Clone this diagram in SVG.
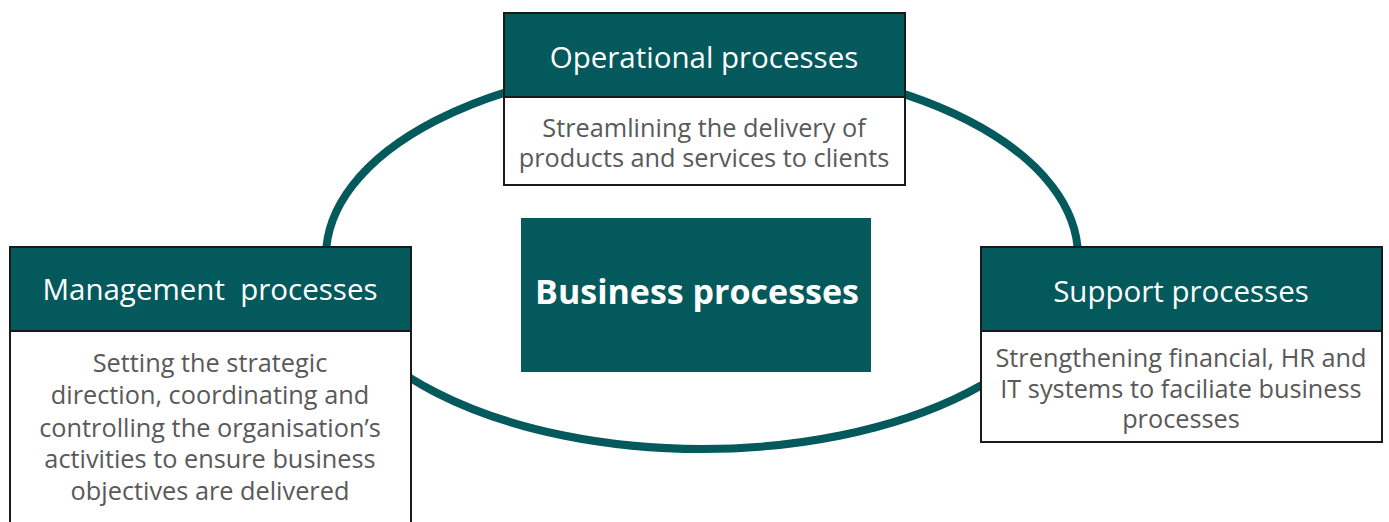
<svg xmlns="http://www.w3.org/2000/svg" width="1389" height="522" viewBox="0 0 1389 522">
<style>
.hdr{fill:#03595c;stroke:#1a1a1a;stroke-width:2}
.body{fill:#ffffff;stroke:#1a1a1a;stroke-width:2}
.ht{font-family:"Open Sans","Liberation Sans",sans-serif;font-size:29.5px;fill:#ffffff;text-anchor:middle;white-space:pre}
.bt{font-family:"Open Sans","Liberation Sans",sans-serif;font-size:25.3px;fill:#595959;text-anchor:middle}
.ring{fill:none;stroke:#03595c;stroke-width:8}
</style>
<rect width="1389" height="522" fill="#ffffff"/>
<g id="connectors">
<ellipse class="ring" cx="702" cy="256.5" rx="376" ry="192.5"/>
</g>
<g id="center">
<rect x="521" y="218" width="350" height="154" fill="#03595c"/>
<text x="697" y="304" font-family="'Open Sans','Liberation Sans',sans-serif" font-size="34" font-weight="bold" fill="#ffffff" text-anchor="middle">Business processes</text>
</g>
<g id="operational">
<rect class="body" x="504" y="97" width="401" height="88"/>
<rect class="hdr" x="504" y="13" width="401" height="84"/>
<text class="ht" x="704" y="68">Operational processes</text>
<text class="bt" x="704" y="137">Streamlining the delivery of</text>
<text class="bt" x="704" y="167">products and services to clients</text>
</g>
<g id="management">
<rect class="body" x="10" y="331" width="401" height="200"/>
<rect class="hdr" x="10" y="247" width="401" height="84"/>
<text class="ht" x="210" y="300" xml:space="preserve">Management  processes</text>
<text class="bt" x="210" y="372">Setting the strategic</text>
<text class="bt" x="210" y="404">direction, coordinating and</text>
<text class="bt" x="210" y="437">controlling the organisation’s</text>
<text class="bt" x="210" y="468">activities to ensure business</text>
<text class="bt" x="210" y="500">objectives are delivered</text>
</g>
<g id="support">
<rect class="body" x="981" y="331" width="401" height="111"/>
<rect class="hdr" x="981" y="247" width="401" height="84"/>
<text class="ht" x="1181" y="302">Support processes</text>
<text class="bt" x="1181" y="367">Strengthening financial, HR and</text>
<text class="bt" x="1181" y="398">IT systems to faciliate business</text>
<text class="bt" x="1181" y="428">processes</text>
</g>
</svg>
